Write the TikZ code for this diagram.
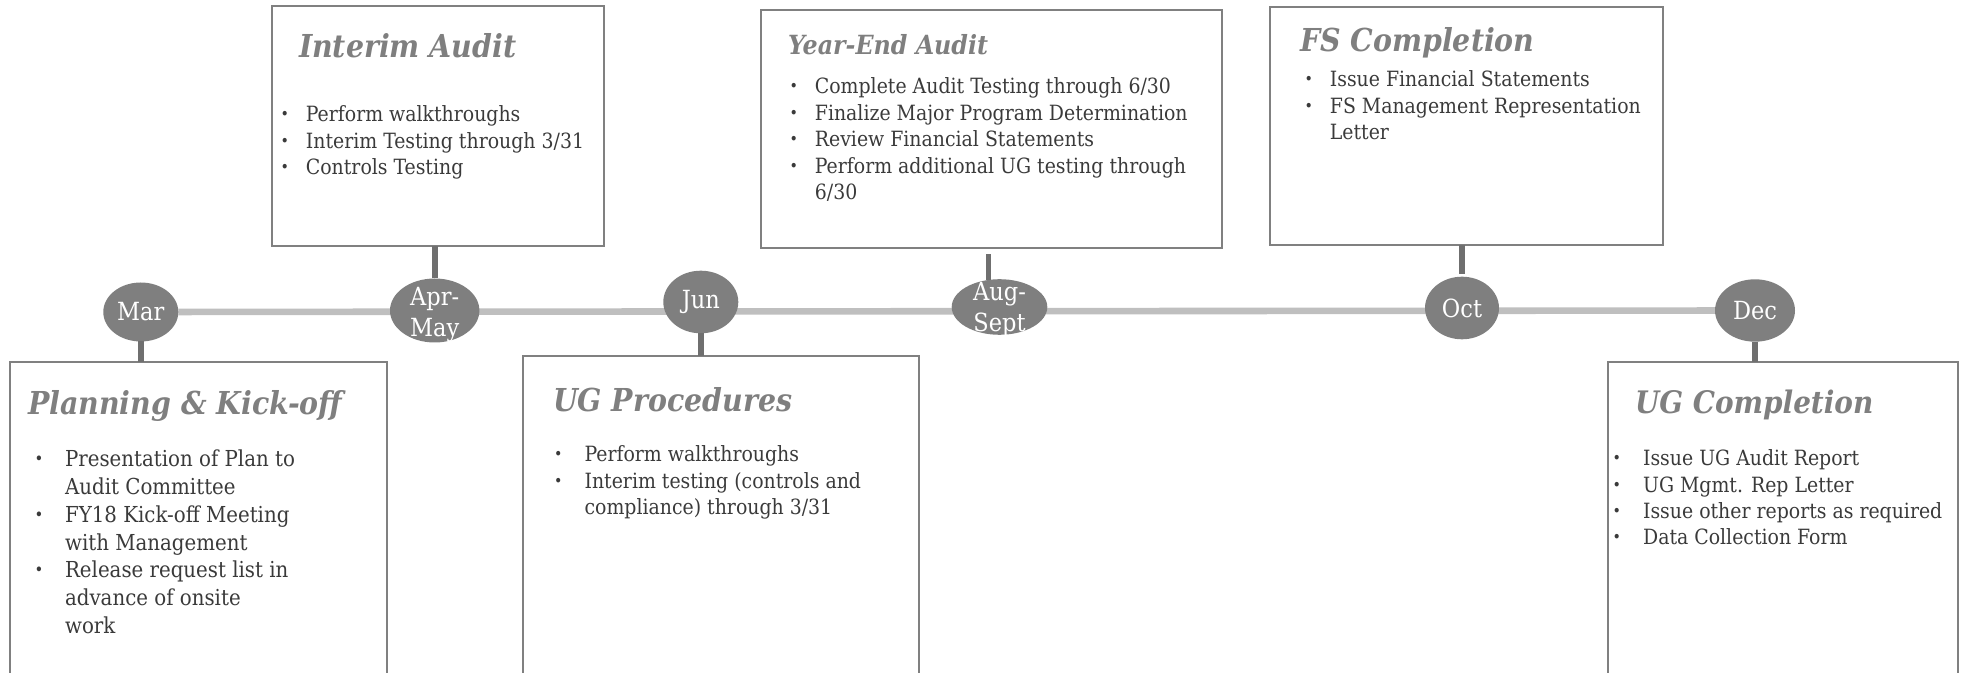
\documentclass[tikz,border=0pt]{standalone}
\usepackage{graphicx}
\usepackage{fontspec}
\setmainfont{DejaVuSerifCondensed.ttf}[BoldFont=DejaVuSerifCondensed-Bold.ttf,ItalicFont=DejaVuSerifCondensed-Italic.ttf,BoldItalicFont=DejaVuSerifCondensed-BoldItalic.ttf]
\usetikzlibrary{shapes.geometric,backgrounds,calc}

\definecolor{headgray}{HTML}{7F7F7F}
\definecolor{boxgray}{HTML}{808080}
\definecolor{linegray}{HTML}{BFBFBF}
\definecolor{stemgray}{HTML}{6F6F6F}
\definecolor{bodygray}{HTML}{3A3A3A}

\newlength{\bulletgap}
\newcommand{\bitem}{\makebox[\bulletgap][l]{\raisebox{.2ex}{\scalebox{.75}{\textbullet}}}}
\newcommand{\bcont}{\hspace*{\bulletgap}}
\newcommand{\steps}[1]{\begin{tabular}[t]{@{}l@{}}#1\end{tabular}}

\begin{document}
\begin{tikzpicture}[x=0.5pt,y=-0.5pt,
    every node/.style={inner sep=0pt,outer sep=0pt},
    phasebox/.style={draw=boxgray,line width=1pt,anchor=north west},
    month/.style={ellipse,fill=headgray},
    monthtext/.style={text=white,align=center,font=\fontsize{12.5}{15.5}\selectfont},
    phasehead/.style={anchor=base west,text=headgray,font=\fontsize{15.8}{18}\selectfont\bfseries\itshape},
    toplist/.style={anchor=base west,text=bodygray,font=\fontsize{10.5}{13.25}\selectfont\setlength{\bulletgap}{12.7pt}},
    lowlist/.style={toplist,font=\fontsize{10.5}{13.1}\selectfont\setlength{\bulletgap}{15.3pt}},
    stem/.style={draw=stemgray,line width=2.8pt},
    timeline/.style={draw=linegray,line width=3.3pt}]
                \useasboundingbox (0,0) rectangle (1967,673);
                \clip (0,0) rectangle (1967,673);

                % boxes above the line
                \node[phasebox,minimum width=166pt,minimum height=120pt] (interim) at (272,6) {};
                \node[phasebox,minimum width=230.5pt,minimum height=119pt] (yearend) at (761,10) {};
                \node[phasebox,minimum width=196.5pt,minimum height=119pt] (fscomp) at (1270,7) {};

                % boxes below the line
                \node[phasebox,minimum width=188.5pt,minimum height=180pt] (planning) at (10,362) {};
                \node[phasebox,minimum width=198pt,minimum height=180pt] (ugproc) at (523,356) {};
                \node[phasebox,minimum width=175pt,minimum height=180pt] (ugcomp) at (1608,362) {};

                \node[phasehead] (interimhead) at (299,58) {Interim Audit};
                \node[phasehead,font=\fontsize{13.2}{16}\selectfont\bfseries\itshape] (yearendhead) at (788,55) {Year-End Audit};
                \node[phasehead] (fscomphead) at (1300,52) {FS Completion};
                \node[phasehead] (planninghead) at (28,415) {Planning \& Kick-off};
                \node[phasehead] (ugprochead) at (553,412) {UG Procedures};
                \node[phasehead,font=\fontsize{15.5}{18}\selectfont\bfseries\itshape] (ugcomphead) at (1635,414) {UG Completion};

                \node[toplist] (interimlist) at (280.5,122) {\steps{\bitem Perform walkthroughs\\ \bitem Interim Testing through 3/31\\ \bitem Controls Testing}};
                \node[toplist] (yearendlist) at (789.5,94) {\steps{\bitem Complete Audit Testing through 6/30\\ \bitem Finalize Major Program Determination\\ \bitem Review Financial Statements\\ \bitem Perform additional UG testing through\\ \bcont 6/30}};
                \node[toplist] (fscomplist) at (1304.5,87) {\steps{\bitem Issue Financial Statements\\ \bitem FS Management Representation\\ \bcont Letter}};
                \node[lowlist,font=\fontsize{11}{13.85}\selectfont\setlength{\bulletgap}{15.3pt}] (planninglist) at (34.5,467) {\steps{\bitem Presentation of Plan to\\ \bcont Audit Committee\\ \bitem FY18 Kick-off Meeting\\ \bcont with Management\\ \bitem Release request list in\\ \bcont advance of onsite\\ \bcont work}};
                \node[lowlist] (ugproclist) at (554,462) {\steps{\bitem Perform walkthroughs\\ \bitem Interim testing (controls and\\ \bcont compliance) through 3/31}};
                \node[lowlist] (ugcomplist) at (1612.5,466) {\steps{\bitem Issue UG Audit Report\\ \bitem UG Mgmt. Rep Letter\\ \bitem Issue other reports as required\\ \bitem Data Collection Form}};

                % months
                \node[month,minimum width=37.5pt,minimum height=29.5pt] (mar) at (140.8,312) {};
                \node[month,minimum width=44.7pt,minimum height=32pt] (aprmay) at (434.7,310.5) {};
                \node[month,minimum width=37.5pt,minimum height=31.3pt] (jun) at (700.8,302) {};
                \node[month,minimum width=47.8pt,minimum height=27.8pt] (augsep) at (999.5,307) {};
                \node[month,minimum width=37pt,minimum height=31.3pt] (oct) at (1462,308) {};
                \node[month,minimum width=40pt,minimum height=31.2pt] (dec) at (1755,310.5) {};

                \node[monthtext] (marlbl) at (mar) {Mar};
                \node[monthtext] (aprmaylbl) at ($(aprmay)+(0,4)$) {Apr-\\May};
                \node[monthtext] (junlbl) at (jun) {Jun};
                \node[monthtext] (augseplbl) at ($(augsep)+(0,2)$) {Aug-\\Sept};
                \node[monthtext] (octlbl) at (oct) {Oct};
                \node[monthtext] (declbl) at (dec) {Dec};

                \draw[stem] (mar.south) -- (planning.north -| mar.south);
                \draw[stem] (aprmay.north) -- (interim.south -| aprmay.north);
                \draw[stem] (jun.south) -- (ugproc.north -| jun.south);
                \draw[stem,shorten >=3pt] ($(augsep.north)+(-11,1)$) -- ($(yearend.south -| augsep.north)+(-11,0)$);
                \draw[stem,shorten <=1.5pt] (oct.north) -- (fscomp.south -| oct.north);
                \draw[stem] (dec.south) -- (ugcomp.north -| dec.south);

                \begin{scope}[on background layer]
                    \draw[timeline] (mar) -- (dec);
                \end{scope}
            \end{tikzpicture}
\end{document}
